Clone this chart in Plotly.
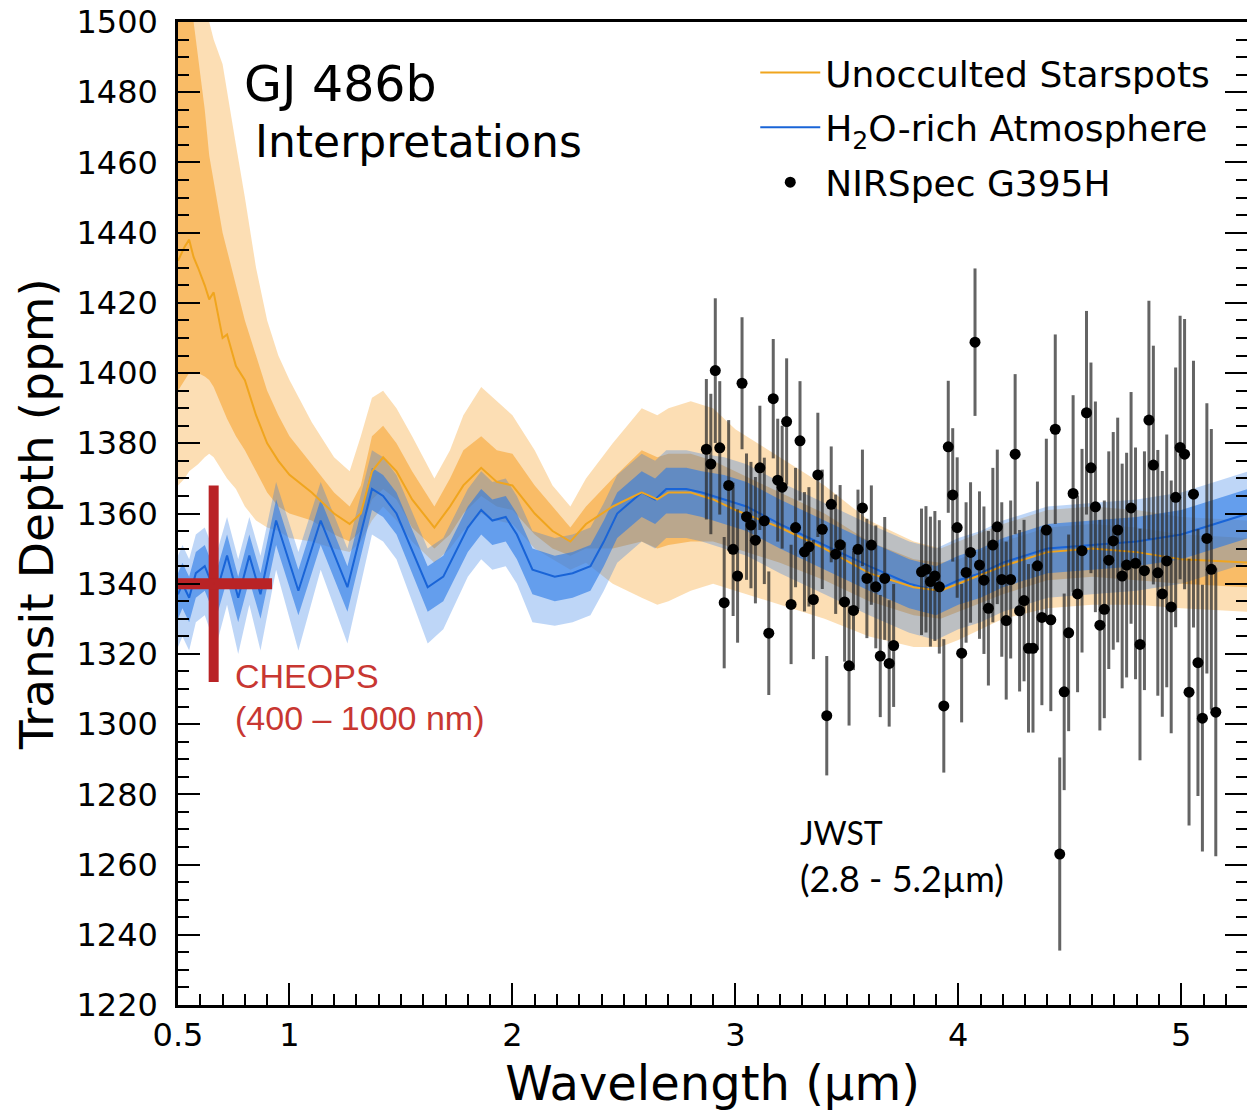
import plotly.graph_objects as go

# ---------------- data ----------------
# NIRSpec G395H spectrum (NRS1 and NRS2)
jwst_wl = [2.87, 2.89, 2.91, 2.93, 2.95, 2.97, 2.99, 3.01, 3.03, 3.05, 3.07, 3.09, 3.11, 3.13, 3.15,
           3.17, 3.19, 3.21, 3.23, 3.25, 3.27, 3.29, 3.31, 3.33, 3.35, 3.37, 3.39, 3.41, 3.43, 3.45,
           3.47, 3.49, 3.51, 3.53, 3.55, 3.57, 3.59, 3.61, 3.63, 3.65, 3.67, 3.69, 3.71,
           3.835, 3.855, 3.875, 3.895, 3.915, 3.935, 3.955, 3.975, 3.995, 4.015, 4.035, 4.055, 4.075,
           4.095, 4.115, 4.135, 4.155, 4.175, 4.195, 4.215, 4.235, 4.255, 4.275, 4.295, 4.315, 4.335,
           4.355, 4.375, 4.395, 4.415, 4.435, 4.455, 4.475, 4.495, 4.515, 4.535, 4.555, 4.575, 4.595,
           4.615, 4.635, 4.655, 4.675, 4.695, 4.715, 4.735, 4.755, 4.775, 4.795, 4.815, 4.835, 4.855,
           4.875, 4.895, 4.915, 4.935, 4.955, 4.975, 4.995, 5.015, 5.035, 5.055, 5.075, 5.095, 5.115,
           5.135, 5.155]
jwst_depth = [1378.3, 1374.1, 1400.7, 1378.7, 1334.6, 1368.0, 1349.8, 1342.2, 1397.1, 1359.1, 1356.7,
              1352.4, 1373.0, 1357.9, 1325.9, 1392.7, 1369.5, 1367.5, 1386.2, 1334.1, 1356.0, 1380.7,
              1349.1, 1350.5, 1335.5, 1371.0, 1355.5, 1302.4, 1362.6, 1348.4, 1351.1, 1334.8, 1316.6,
              1332.4, 1349.8, 1361.6, 1341.5, 1351.0, 1339.1, 1319.4, 1341.5, 1317.3, 1322.4,
              1343.4, 1344.1, 1340.6, 1342.2, 1339.1, 1305.2, 1379.0, 1365.3, 1356.0, 1320.2, 1343.2,
              1348.9, 1408.8, 1345.3, 1341.0, 1333.0, 1351.0, 1356.2, 1341.2, 1329.5, 1341.2, 1376.9,
              1332.3, 1335.2, 1321.6, 1321.6, 1345.1, 1330.4, 1355.3, 1329.7, 1384.0, 1263.0, 1309.2,
              1326.0, 1365.7, 1337.1, 1349.4, 1388.7, 1373.0, 1361.9, 1328.2, 1332.7, 1346.7, 1352.2,
              1355.3, 1342.2, 1345.3, 1361.6, 1345.8, 1322.7, 1343.7, 1386.6, 1373.8, 1343.1, 1337.1,
              1346.5, 1333.4, 1364.6, 1378.8, 1376.9, 1309.1, 1365.5, 1317.5, 1301.7, 1352.9, 1344.1,
              1303.4]
jwst_err = [20, 20, 20.6, 19, 18.7, 18.6, 19, 19, 18.8, 18, 18, 18, 17.7, 18, 17.6, 17, 17.5, 17.5, 18,
            17, 17, 17, 17, 17, 17, 17.7, 17, 17, 16.5, 17, 17, 17, 17, 17, 17, 16.6, 17, 17, 17.5,
            17.4, 17.5, 18, 17.5,
            18, 18, 18.5, 18.5, 19, 19, 18.8, 19, 20, 19.7, 20, 20, 21, 21, 21, 22, 22, 22, 22, 22.5,
            22.5, 22.8, 23, 23, 24, 24, 24, 25, 26, 26, 27, 27.5, 28, 28, 28, 28, 29, 29, 30, 30, 30,
            31, 31, 31, 32, 32, 32, 33, 33, 33, 34, 34, 34, 35, 35, 36, 36, 37, 37.5, 38.5, 38, 38, 38,
            38, 38.5, 40, 41]

# CHEOPS point
cheops_wl = [0.66]
cheops_wl_err = [0.262]
cheops_depth = [1340]
cheops_depth_err = [28]

# H2O-rich atmosphere model: median and 1-sigma / 2-sigma envelopes
h2o_wl = [0.50, 0.52, 0.55, 0.58, 0.62, 0.67, 0.72, 0.77, 0.82, 0.87, 0.94, 1.04, 1.14, 1.26, 1.37,
          1.42, 1.48, 1.62, 1.69, 1.80, 1.86, 1.91, 1.97, 2.02, 2.09, 2.19, 2.27, 2.35, 2.41, 2.47,
          2.58, 2.64, 2.69, 2.78, 2.85, 2.95, 3.05, 3.20, 3.40, 3.60, 3.78, 3.90, 4.00, 4.10, 4.20,
          4.40, 4.60, 4.80, 5.00, 5.10, 5.20, 5.30]
h2o_med = [1337, 1340, 1336, 1343, 1345, 1337, 1348, 1336, 1348, 1337, 1358, 1338, 1358, 1339, 1367,
           1365, 1360, 1339, 1342, 1356, 1361, 1358, 1359, 1354, 1344, 1342, 1343, 1345, 1352, 1360,
           1366, 1364, 1367, 1367, 1366, 1364, 1362, 1357, 1351, 1345, 1340, 1338, 1341, 1343, 1346,
           1350, 1351, 1352, 1354, 1356, 1358, 1360]
h2o_lo2 = [1322, 1325, 1321, 1329, 1331, 1322, 1334, 1320, 1334, 1321, 1344, 1321, 1344, 1323, 1354,
           1352, 1347, 1323, 1327, 1342, 1347, 1344, 1345, 1340, 1329, 1328, 1329, 1331, 1338, 1346,
           1352, 1350, 1353, 1353, 1352, 1350, 1348, 1343, 1337, 1331, 1326, 1324, 1327, 1329, 1332,
           1336, 1337, 1338, 1340, 1342, 1344, 1346]
h2o_lo1 = [1330, 1333, 1329, 1336, 1338, 1330, 1341, 1329, 1341, 1330, 1351, 1331, 1351, 1332, 1361,
           1359, 1354, 1332, 1335, 1349, 1354, 1351, 1352, 1347, 1337, 1335, 1336, 1338, 1345, 1353,
           1359, 1357, 1360, 1360, 1359, 1357, 1355, 1350, 1344, 1338, 1333, 1331, 1334, 1336, 1339,
           1343, 1344, 1345, 1347, 1349, 1351, 1353]
h2o_hi1 = [1343, 1346, 1342, 1349, 1351, 1343, 1354, 1342, 1354, 1343, 1364, 1344, 1364, 1345, 1373,
           1371, 1366, 1345, 1348, 1362, 1367, 1364, 1365, 1360, 1350, 1348, 1349, 1351, 1358, 1366,
           1372, 1370, 1373, 1373, 1372, 1371, 1369, 1364, 1358, 1352, 1347, 1345, 1348, 1350, 1353,
           1357, 1358, 1359, 1361, 1363, 1365, 1367]
h2o_hi2 = [1348, 1351, 1347, 1354, 1356, 1348, 1359, 1347, 1359, 1348, 1369, 1349, 1369, 1350, 1378,
           1376, 1371, 1350, 1353, 1367, 1372, 1369, 1370, 1365, 1355, 1353, 1354, 1356, 1363, 1371,
           1377, 1375, 1378, 1378, 1377, 1376, 1374, 1369, 1363, 1357, 1352, 1350, 1353, 1355, 1358,
           1362, 1363, 1364, 1366, 1368, 1370, 1372]

# Unocculted starspots model: median and 1-sigma / 2-sigma envelopes
spot_wl = [0.50, 0.53, 0.55, 0.57, 0.59, 0.62, 0.64, 0.66, 0.70, 0.72, 0.76, 0.80, 0.85, 0.90, 0.95,
           1.00, 1.10, 1.20, 1.27, 1.32, 1.37, 1.42, 1.48, 1.55, 1.65, 1.72, 1.78, 1.86, 1.93, 2.00,
           2.10, 2.18, 2.26, 2.33, 2.45, 2.58, 2.65, 2.70, 2.80, 2.90, 3.00, 3.20, 3.40, 3.60, 3.80,
           3.92, 4.00, 4.20, 4.40, 4.60, 4.80, 5.00, 5.30]
spot_med = [1432, 1436, 1438, 1433, 1430, 1425, 1421, 1423, 1410, 1411, 1402, 1398, 1388, 1380, 1375,
            1371, 1366, 1360, 1357, 1360, 1372, 1376, 1372, 1364, 1356, 1362, 1368, 1373, 1369, 1368,
            1360, 1355, 1352, 1357, 1362, 1366, 1364, 1366, 1366, 1364, 1361, 1356, 1350, 1343, 1339,
            1338, 1340, 1345, 1349, 1350, 1349, 1347, 1346]
spot_lo2 = [1368, 1370, 1372, 1373, 1374, 1376, 1377, 1376, 1372, 1370, 1367, 1362, 1358, 1356, 1355,
            1353, 1352, 1350, 1349, 1352, 1358, 1362, 1358, 1352, 1346, 1350, 1355, 1360, 1358, 1357,
            1350, 1347, 1344, 1346, 1340, 1336, 1334, 1335, 1338, 1340, 1338, 1334, 1330, 1325, 1322,
            1322, 1324, 1330, 1333, 1334, 1334, 1333, 1332]
spot_lo1 = [1395, 1398, 1400, 1400, 1400, 1399, 1398, 1396, 1390, 1387, 1382, 1378, 1372, 1366, 1362,
            1360, 1358, 1354, 1352, 1355, 1364, 1367, 1364, 1356, 1350, 1354, 1360, 1365, 1362, 1361,
            1354, 1350, 1348, 1350, 1350, 1352, 1350, 1351, 1352, 1352, 1350, 1346, 1341, 1335, 1331,
            1330, 1332, 1337, 1341, 1342, 1341, 1340, 1339]
spot_hi1 = [1505, 1505, 1505, 1500, 1490, 1475, 1462, 1455, 1440, 1435, 1425, 1415, 1405, 1395, 1388,
            1382, 1374, 1366, 1362, 1368, 1382, 1385, 1380, 1372, 1362, 1370, 1378, 1382, 1378, 1377,
            1368, 1362, 1356, 1362, 1370, 1378, 1376, 1377, 1377, 1375, 1372, 1366, 1360, 1352, 1347,
            1346, 1347, 1352, 1356, 1357, 1356, 1354, 1353]
spot_hi2 = [1510, 1510, 1510, 1510, 1510, 1505, 1500, 1495, 1488, 1480, 1465, 1450, 1430, 1415, 1405,
            1398, 1386, 1376, 1372, 1382, 1393, 1395, 1390, 1382, 1370, 1378, 1388, 1396, 1392, 1388,
            1378, 1368, 1362, 1370, 1380, 1390, 1388, 1390, 1392, 1390, 1384, 1376, 1368, 1358, 1352,
            1350, 1352, 1357, 1361, 1362, 1361, 1359, 1358]

x_tick_vals = [0.5, 1, 2, 3, 4, 5]
x_tick_text = ["0.5", "1", "2", "3", "4", "5"]

# ---------------- styles ----------------
FONT = "DejaVu Sans"
ORANGE = "rgb(240,165,30)"
ORANGE_2S = "rgba(245,160,40,0.35)"
ORANGE_1S = "rgba(245,160,40,0.55)"
BLUE = "rgb(25,100,215)"
BLUE_2S = "rgba(40,120,230,0.30)"
BLUE_1S = "rgba(40,120,230,0.60)"
RED = "rgb(185,35,38)"
RED_TEXT = "rgb(200,55,50)"

fig = go.Figure()


def band(x, lo, hi, color):
    fig.add_trace(go.Scatter(x=x, y=lo, mode="lines", line=dict(width=0, color=color),
                             showlegend=False, hoverinfo="skip"))
    fig.add_trace(go.Scatter(x=x, y=hi, mode="lines", line=dict(width=0, color=color),
                             fill="tonexty", fillcolor=color, showlegend=False, hoverinfo="skip"))


band(spot_wl, spot_lo2, spot_hi2, ORANGE_2S)
band(spot_wl, spot_lo1, spot_hi1, ORANGE_1S)
band(h2o_wl, h2o_lo2, h2o_hi2, BLUE_2S)
band(h2o_wl, h2o_lo1, h2o_hi1, BLUE_1S)

fig.add_trace(go.Scatter(x=h2o_wl, y=h2o_med, mode="lines", name="H<sub>2</sub>O-rich Atmosphere",
                         legendgroup="b", legendrank=2,
                         line=dict(color=BLUE, width=2)))
fig.add_trace(go.Scatter(x=spot_wl, y=spot_med, mode="lines", name="Unocculted Starspots",
                         legendgroup="a", legendrank=1,
                         line=dict(color=ORANGE, width=2)))

fig.add_trace(go.Scatter(
    x=jwst_wl, y=jwst_depth, mode="markers", name="NIRSpec G395H",
    legendgroup="c", legendrank=3,
    marker=dict(color="black", size=11),
    error_y=dict(type="data", array=jwst_err, visible=True, color="rgba(40,40,40,0.72)",
                 thickness=3, width=0)))

fig.add_trace(go.Scatter(
    x=cheops_wl, y=cheops_depth, mode="markers", showlegend=False, cliponaxis=False,
    marker=dict(color=RED, size=2),
    error_x=dict(type="data", array=cheops_wl_err, visible=True, color=RED, thickness=11, width=0),
    error_y=dict(type="data", array=cheops_depth_err, visible=True, color=RED, thickness=10, width=0)))

ann = [
    dict(text="GJ 486b", x=0.060, y=0.936, font=dict(size=49, family=FONT, color="black")),
    dict(text="Interpretations", x=0.070, y=0.878, font=dict(size=44, family=FONT, color="black")),
    dict(text="CHEOPS", x=0.0515, y=0.3347, font=dict(size=34, family="Liberation Sans", color=RED_TEXT)),
    dict(text="(400 – 1000 nm)", x=0.0515, y=0.292, font=dict(size=34, family="Liberation Sans", color=RED_TEXT)),
    dict(text="JWST", x=0.5796, y=0.175, font=dict(size=32, family="Lato", color="black")),
    dict(text="(2.8 - 5.2µm)", x=0.5796, y=0.129, font=dict(size=36, family="Lato", color="black")),
]
for a in ann:
    fig.add_annotation(xref="paper", yref="paper", xanchor="left", yanchor="middle",
                       showarrow=False, **a)

fig.update_layout(
    width=1247, height=1114,
    margin=dict(l=178, r=0, t=22, b=109),
    paper_bgcolor="white", plot_bgcolor="white",
    font=dict(family=FONT, color="black"),
    showlegend=True,
    legend=dict(x=0.54, y=0.979, xanchor="left", yanchor="top", traceorder="grouped",
                itemwidth=60,
                font=dict(size=36, family=FONT, color="black"),
                bgcolor="rgba(255,255,255,0)", tracegroupgap=5),
)

fig.update_xaxes(
    range=[0.5, 5.295], tickvals=x_tick_vals, ticktext=x_tick_text, automargin=False,
    ticks="inside", ticklen=22, tickwidth=2, tickcolor="black",
    showline=True, linecolor="black", linewidth=2.5, mirror=True,
    showgrid=False, zeroline=False,
    tickfont=dict(size=32, family=FONT, color="black"),
    minor=dict(dtick=0.1, tick0=0.5, ticks="inside", ticklen=11, tickwidth=2, tickcolor="black",
               showgrid=False),
    title=dict(text="Wavelength (µm)", font=dict(size=48, family=FONT, color="black"), standoff=14),
)
fig.update_yaxes(
    range=[1220, 1500], dtick=20, tick0=1220, automargin=False,
    ticks="inside", ticklen=22, tickwidth=2, tickcolor="black",
    showline=True, linecolor="black", linewidth=2.5, mirror="ticks",
    showgrid=False, zeroline=False,
    tickfont=dict(size=32, family=FONT, color="black"),
    ticklabelstandoff=11,
    minor=dict(dtick=5, ticks="inside", ticklen=11, tickwidth=2, tickcolor="black", showgrid=False),
    title=dict(text="Transit Depth (ppm)", font=dict(size=47, family=FONT, color="black"), standoff=8),
)

fig.write_html("out.html", config={"displayModeBar": False},
               post_script="document.body.style.margin='0';")
